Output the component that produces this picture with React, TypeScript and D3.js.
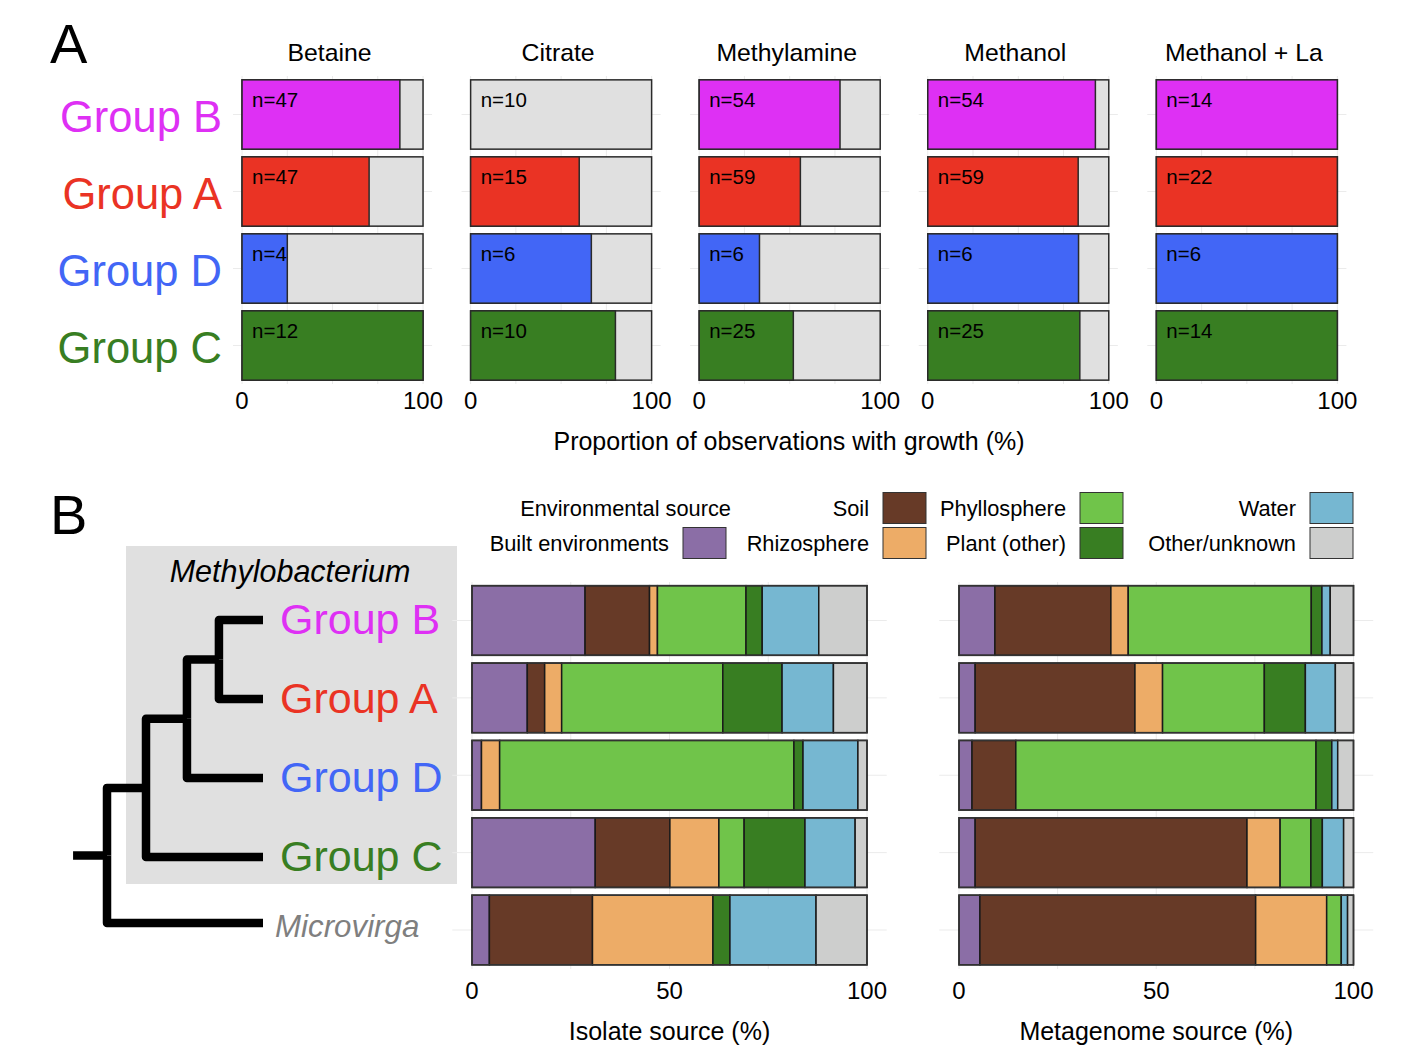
import React, { useRef, useEffect } from "react";
import * as d3 from "d3";

// ---- panel A data ----
const groups = ["Group B", "Group A", "Group D", "Group C"];
const substrates = ["Betaine", "Citrate", "Methylamine", "Methanol", "Methanol + La"];
// rows follow groups, columns follow substrates
const nObs = [
  [47, 10, 54, 54, 14],
  [47, 15, 59, 59, 22],
  [4, 6, 6, 6, 6],
  [12, 10, 25, 25, 14],
];
const growthPct = [
  [87.2, 0, 77.8, 92.6, 100],
  [70.2, 60, 55.9, 83.1, 100],
  [25, 66.7, 33.3, 83.3, 100],
  [100, 80, 52, 84, 100],
];
const groupColors = ["#DE30F4", "#EA3324", "#4266F6", "#387E22"];

// ---- panel B data ----
const taxa = ["Group B", "Group A", "Group D", "Group C", "Microvirga"];
const sources = [
  "Built environments",
  "Soil",
  "Rhizosphere",
  "Phyllosphere",
  "Plant (other)",
  "Water",
  "Other/unknown",
];
const sourceColors = ["#8B6EA6", "#673A27", "#EDAC67", "#70C44A", "#387E22", "#76B7D1", "#CDCECD"];
const isolatePct = [
  [28.6, 16.3, 2.0, 22.4, 4.1, 14.3, 12.2],
  [14.0, 4.4, 4.3, 40.8, 15.0, 13.0, 8.5],
  [2.4, 0, 4.6, 74.5, 2.3, 13.9, 2.3],
  [31.2, 18.9, 12.4, 6.4, 15.4, 12.7, 3.0],
  [4.4, 26.1, 30.5, 0, 4.3, 21.8, 12.9],
];
const metagenomePct = [
  [9.1, 29.4, 4.4, 46.4, 2.7, 2.1, 5.9],
  [4.1, 40.5, 7.0, 25.8, 10.4, 7.6, 4.6],
  [3.3, 11.1, 0, 76.1, 4.0, 1.5, 4.0],
  [4.1, 68.9, 8.4, 7.8, 2.9, 5.4, 2.5],
  [5.3, 69.9, 18.0, 3.7, 0, 1.6, 1.5],
];
const ticksA = [0, 100];
const ticksB = [0, 50, 100];
const gridTicks = [0, 25, 50, 75, 100];

// tree with branch lengths
interface TreeNode {
  name: string;
  length: number;
  children?: TreeNode[];
}
const tree: TreeNode = {
  name: "root",
  length: 0,
  children: [
    {
      name: "Methylobacterium",
      length: 1,
      children: [
        {
          name: "n2",
          length: 1.05,
          children: [
            {
              name: "n3",
              length: 0.82,
              children: [
                { name: "Group B", length: 1.13 },
                { name: "Group A", length: 1.13 },
              ],
            },
            { name: "Group D", length: 1.95 },
          ],
        },
        { name: "Group C", length: 3 },
      ],
    },
    { name: "Microvirga", length: 4 },
  ],
};
const rootStub = 0.87;

const FONT = "'Liberation Sans', Arial, Helvetica, sans-serif";
const W = 1418;
const H = 1064;

const App: React.FC = () => {
  const svgRef = useRef<SVGSVGElement>(null);

  useEffect(() => {
    if (!svgRef.current) return;
    document.body.style.margin = "0";
    const svg = d3.select(svgRef.current);
    svg.selectAll("*").remove();
    svg.style("font-family", FONT);

    const grid = "#EBEBEB";
    const edge = "#2a2a2a";

    // ================= Panel A =================
    svg.append("text").attr("x", 50).attr("y", 63).attr("font-size", 56).text("A");

    const facet = d3.scaleBand<string>().domain(substrates).range([233, 1346.4]).paddingInner(0.129);
    const yA = d3.scaleBand<string>().domain(groups).range([76, 384]).paddingInner(0.1).paddingOuter(0.05);

    substrates.forEach((sub, si) => {
      const x0 = facet(sub)!;
      const x = d3.scaleLinear().domain([-5, 105]).range([x0, x0 + facet.bandwidth()]);
      const g = svg.append("g");

      // grid
      g.selectAll("line.v")
        .data(gridTicks)
        .join("line")
        .attr("x1", (d) => x(d))
        .attr("x2", (d) => x(d))
        .attr("y1", 76)
        .attr("y2", 384)
        .attr("stroke", grid);
      g.selectAll("line.h")
        .data(groups)
        .join("line")
        .attr("x1", x(-5))
        .attr("x2", x(105))
        .attr("y1", (d) => yA(d)! + yA.bandwidth() / 2)
        .attr("y2", (d) => yA(d)! + yA.bandwidth() / 2)
        .attr("stroke", grid);

      // facet title
      g.append("text")
        .attr("x", x(50) - 3)
        .attr("y", 61)
        .attr("text-anchor", "middle")
        .attr("font-size", 24.8)
        .text(sub);

      groups.forEach((grp, gi) => {
        const y = yA(grp)!;
        g.append("rect")
          .attr("x", x(0))
          .attr("y", y)
          .attr("width", x(100) - x(0))
          .attr("height", yA.bandwidth())
          .attr("fill", "#E0E0E0")
          .attr("stroke", edge)
          .attr("stroke-width", 1.5);
        const p = growthPct[gi][si];
        if (p > 0) {
          g.append("rect")
            .attr("x", x(0))
            .attr("y", y)
            .attr("width", x(p) - x(0))
            .attr("height", yA.bandwidth())
            .attr("fill", groupColors[gi])
            .attr("stroke", edge)
            .attr("stroke-width", 1.5);
        }
        g.append("text")
          .attr("x", x(0) + 10)
          .attr("y", y + 27)
          .attr("font-size", 20.5)
          .text(`n=${nObs[gi][si]}`);
      });

      // ticks
      g.selectAll("text.tick")
        .data(ticksA)
        .join("text")
        .attr("x", (d) => x(d))
        .attr("y", 409)
        .attr("text-anchor", "middle")
        .attr("font-size", 24)
        .text((d) => d);
    });

    // group labels panel A
    svg
      .append("g")
      .selectAll("text")
      .data(groups)
      .join("text")
      .attr("x", 222)
      .attr("y", (d) => yA(d)! + yA.bandwidth() / 2 + 17)
      .attr("text-anchor", "end")
      .attr("font-size", 43.5)
      .attr("fill", (_, i) => groupColors[i])
      .text((d) => d);

    svg
      .append("text")
      .attr("x", 789)
      .attr("y", 450)
      .attr("text-anchor", "middle")
      .attr("font-size", 25)
      .text("Proportion of observations with growth (%)");

    // ================= Panel B =================
    svg.append("text").attr("x", 50).attr("y", 534).attr("font-size", 56).text("B");

    const yB = d3.scaleBand<string>().domain(taxa).range([581.8, 968.7]).paddingInner(0.1).paddingOuter(0.05);
    const color = d3.scaleOrdinal<string, string>().domain(sources).range(sourceColors);

    // clade box
    svg
      .append("rect")
      .attr("x", 126)
      .attr("y", 546)
      .attr("width", 331)
      .attr("height", 338)
      .attr("fill", "#E0E0E0");
    svg
      .append("text")
      .attr("x", 290)
      .attr("y", 582)
      .attr("text-anchor", "middle")
      .attr("font-size", 30.5)
      .attr("font-style", "italic")
      .text("Methylobacterium");

    // tree: tips of the clade evenly spaced, outgroup sits a little closer
    const tipY = d3.scalePoint<string>().domain(groups).range([620, 857]);
    const outgroupY = 923;
    const root = d3.hierarchy<TreeNode>(tree);
    const depthOf = new Map<d3.HierarchyNode<TreeNode>, number>();
    root.eachBefore((n) => {
      depthOf.set(n, (n.parent ? depthOf.get(n.parent)! : 0) + n.data.length);
    });
    const yOf = new Map<d3.HierarchyNode<TreeNode>, number>();
    root.eachAfter((n) => {
      if (n.children) yOf.set(n, d3.mean(n.children, (c) => yOf.get(c)!)!);
      else yOf.set(n, groups.includes(n.data.name) ? tipY(n.data.name)! : outgroupY);
    });
    const xT = d3.scaleLinear().domain([0, 4]).range([107, 263]);
    const tg = svg
      .append("g")
      .attr("fill", "none")
      .attr("stroke", "#000")
      .attr("stroke-width", 8.5)
      .attr("stroke-linejoin", "round");
    tg.selectAll("path")
      .data(root.links())
      .join("path")
      .attr(
        "d",
        (l) =>
          `M${xT(depthOf.get(l.source)!)},${yOf.get(l.source)}V${yOf.get(l.target)}H${xT(depthOf.get(l.target)!)}`,
      );
    tg.append("path").attr("d", `M${xT(-rootStub)},${yOf.get(root)}H${xT(0)}`);

    // tip labels
    svg
      .append("g")
      .selectAll("text")
      .data(root.leaves())
      .join("text")
      .attr("x", (d) => (d.data.name === "Microvirga" ? 275 : 280))
      .attr("y", (d) => yOf.get(d)! + (d.data.name === "Microvirga" ? 14 : 14))
      .attr("font-size", (d) => (d.data.name === "Microvirga" ? 31.3 : 43))
      .attr("font-style", (d) => (d.data.name === "Microvirga" ? "italic" : "normal"))
      .attr("fill", (d) => {
        const i = groups.indexOf(d.data.name);
        return i >= 0 ? groupColors[i] : "#7F7F7F";
      })
      .text((d) => d.data.name);

    const stackPanel = (values: number[][], left: number, right: number, title: string) => {
      const x = d3.scaleLinear().domain([0, 100]).range([left, right]);
      const g = svg.append("g");
      g.selectAll("line.v")
        .data(gridTicks)
        .join("line")
        .attr("x1", (d) => x(d))
        .attr("x2", (d) => x(d))
        .attr("y1", 582)
        .attr("y2", 969)
        .attr("stroke", grid);
      g.selectAll("line.h")
        .data(taxa)
        .join("line")
        .attr("x1", x(-5))
        .attr("x2", x(105))
        .attr("y1", (d) => yB(d)! + yB.bandwidth() / 2)
        .attr("y2", (d) => yB(d)! + yB.bandwidth() / 2)
        .attr("stroke", grid);

      const rows = taxa.map((t, i) => {
        const o: Record<string, number | string> = { taxon: t };
        const tot = d3.sum(values[i]);
        sources.forEach((s, j) => (o[s] = (values[i][j] / tot) * 100));
        return o;
      });
      const series = d3.stack<Record<string, number | string>>().keys(sources)(rows);
      g.selectAll("g.s")
        .data(series)
        .join("g")
        .attr("fill", (s) => color(s.key))
        .selectAll("rect")
        .data((s) => s.filter((d) => d[1] - d[0] > 0))
        .join("rect")
        .attr("x", (d) => x(d[0]))
        .attr("width", (d) => x(d[1]) - x(d[0]))
        .attr("y", (d) => yB(d.data.taxon as string)!)
        .attr("height", yB.bandwidth())
        .attr("stroke", "#1a1a1a")
        .attr("stroke-width", 1.5);
      // outer frame
      g.selectAll("rect.frame")
        .data(taxa)
        .join("rect")
        .attr("x", x(0))
        .attr("y", (d) => yB(d)!)
        .attr("width", x(100) - x(0))
        .attr("height", yB.bandwidth())
        .attr("fill", "none")
        .attr("stroke", "#333")
        .attr("stroke-width", 1.5);

      g.selectAll("text.tick")
        .data(ticksB)
        .join("text")
        .attr("x", (d) => x(d))
        .attr("y", 999)
        .attr("text-anchor", "middle")
        .attr("font-size", 24)
        .text((d) => d);
      g.append("text")
        .attr("x", x(50))
        .attr("y", 1040)
        .attr("text-anchor", "middle")
        .attr("font-size", 25)
        .text(title);
    };
    stackPanel(isolatePct, 472, 867, "Isolate source (%)");
    stackPanel(metagenomePct, 959, 1353.5, "Metagenome source (%)");

    // legend: column-major, title occupies first slot
    const keyCols = [683, 883, 1080, 1310];
    const keyRows = [508, 543];
    const slots = ["__title__", ...sources];
    const lg = svg.append("g");
    slots.forEach((s, k) => {
      const col = Math.floor(k / 2);
      const row = k % 2;
      const kx = keyCols[col];
      const cy = keyRows[row];
      if (s === "__title__") {
        lg.append("text")
          .attr("x", 731)
          .attr("y", cy + 8)
          .attr("text-anchor", "end")
          .attr("font-size", 21.8)
          .text("Environmental source");
        return;
      }
      lg.append("rect")
        .attr("x", kx)
        .attr("y", cy - 15.5)
        .attr("width", 43)
        .attr("height", 31)
        .attr("fill", color(s))
        .attr("stroke", "#333")
        .attr("stroke-width", 1);
      lg.append("text")
        .attr("x", kx - 14)
        .attr("y", cy + 8)
        .attr("text-anchor", "end")
        .attr("font-size", 21.8)
        .text(s);
    });
  }, []);

  return (
    <svg
      ref={svgRef}
      width={W}
      height={H}
      viewBox={`0 0 ${W} ${H}`}
      style={{ display: "block", background: "#fff" }}
    />
  );
};

export default App;
